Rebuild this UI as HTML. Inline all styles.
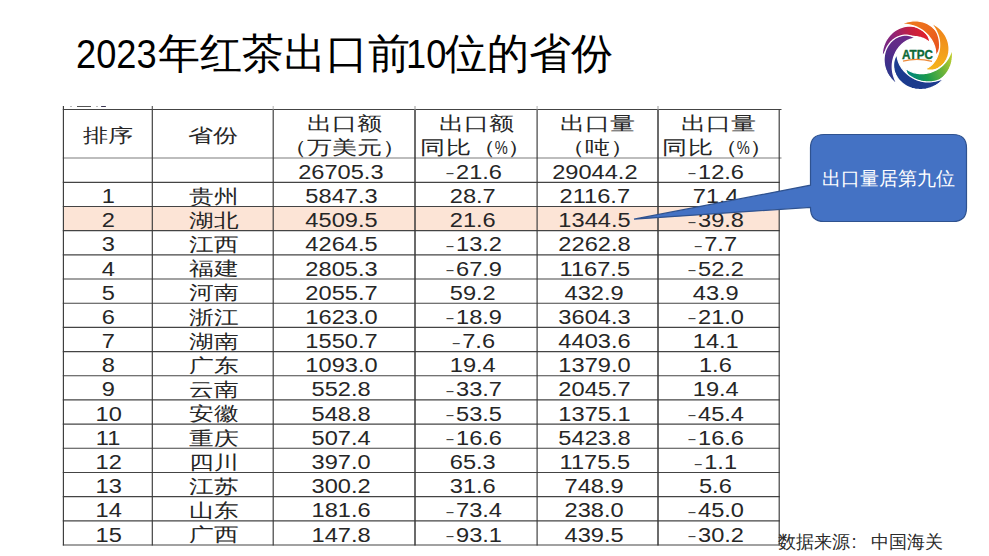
<!DOCTYPE html>
<html><head><meta charset="utf-8"><style>
*{margin:0;padding:0;box-sizing:border-box}
html,body{width:989px;height:556px;overflow:hidden;background:#fff}
body{position:relative;font-family:"Liberation Sans",sans-serif;color:#000}
.title{position:absolute;left:76px;top:30.4px;font-size:42.1px;line-height:48px;white-space:nowrap;color:#000}
.title .d{font-size:40px;display:inline-block;transform:scaleX(0.905);transform-origin:0 50%}
.hl{position:absolute;height:1px;background:#3a3a3a}
.vl{position:absolute;width:1px;background:#3a3a3a}
.c{position:absolute;display:flex;align-items:center;justify-content:center;white-space:nowrap;color:#262626}
.c span{display:inline-block}
.n{font-size:19.3px;line-height:22px}
.n span{transform:scaleX(1.225)}
.m{display:inline-block;transform:scaleX(1.2) scaleY(0.8);position:relative;top:0.5px;margin-left:0.6px;margin-right:2.2px;color:#444}
.z{font-size:18.5px;line-height:22px}
.z span{transform:scaleX(1.30)}
.h{font-size:18.5px;line-height:23.7px;text-align:center}
.pc{display:inline-block;transform:scaleX(0.6);margin:0 -4px;font-style:normal}
.h span{transform:scaleX(1.32)}
.logo{position:absolute;left:882px;top:20px}
.src{position:absolute;left:778px;top:530.5px;font-size:18.4px;line-height:22px;color:#2a2a2a;white-space:nowrap}
.src .co{display:inline-block;width:21px;padding-left:1.6px}
.callout{position:absolute;left:0;top:0}
.ctext{position:absolute;left:810px;top:134px;width:157px;height:88px;display:flex;align-items:center;justify-content:center;color:#fff;font-size:18.5px;white-space:nowrap;letter-spacing:0.05px;padding-top:1.5px}
</style></head><body>

<div class="title"><span class="d" style="margin-right:-6.6px">2023</span>年红茶出口前<span class="d" style="margin-left:-4px;margin-right:-6.2px">10</span>位的省份</div>
<svg class="logo" width="72" height="72" viewBox="0 0 72 72"><defs><linearGradient id="g0" gradientUnits="userSpaceOnUse" x1="0.2" y1="37.3" x2="47.9" y2="22.6"><stop offset="0.00" stop-color="#6a2a88"/><stop offset="0.33" stop-color="#8d2478"/><stop offset="0.67" stop-color="#c01f45"/><stop offset="1.00" stop-color="#e3202b"/></linearGradient><linearGradient id="g1" gradientUnits="userSpaceOnUse" x1="19.4" y1="4.1" x2="53.6" y2="35.5"><stop offset="0.00" stop-color="#ee7a1c"/><stop offset="0.50" stop-color="#ec6a1c"/><stop offset="1.00" stop-color="#e8501e"/></linearGradient><linearGradient id="g2" gradientUnits="userSpaceOnUse" x1="49.2" y1="3.1" x2="42.9" y2="49.1"><stop offset="0.00" stop-color="#ef801a"/><stop offset="0.50" stop-color="#f29a1b"/><stop offset="1.00" stop-color="#f6b51a"/></linearGradient><linearGradient id="g3" gradientUnits="userSpaceOnUse" x1="70.1" y1="29.4" x2="23.8" y2="48.4"><stop offset="0.00" stop-color="#cfd22a"/><stop offset="0.33" stop-color="#6cb43a"/><stop offset="0.67" stop-color="#1a9a4c"/><stop offset="1.00" stop-color="#00857c"/></linearGradient><linearGradient id="g4" gradientUnits="userSpaceOnUse" x1="62.4" y1="58.1" x2="14.9" y2="34.4"><stop offset="0.00" stop-color="#1f3c90"/><stop offset="0.50" stop-color="#1b3a8c"/><stop offset="1.00" stop-color="#1d3d92"/></linearGradient><linearGradient id="g5" gradientUnits="userSpaceOnUse" x1="15.2" y1="64.3" x2="33.3" y2="18.2"><stop offset="0.00" stop-color="#263d8e"/><stop offset="0.33" stop-color="#3f2f8a"/><stop offset="0.67" stop-color="#5e2a88"/><stop offset="1.00" stop-color="#6c2a87"/></linearGradient></defs><path d="M0.25,37.34 L0.20,35.59 L0.25,33.84 L0.39,32.09 L0.64,30.36 L0.97,28.64 L1.40,26.95 L1.93,25.28 L2.55,23.65 L3.26,22.06 L4.06,20.52 L4.95,19.04 L5.91,17.61 L6.96,16.24 L8.08,14.94 L9.27,13.72 L10.53,12.58 L11.84,11.51 L13.22,10.53 L14.64,9.65 L16.10,8.85 L17.60,8.15 L19.13,7.55 L20.68,7.05 L22.25,6.65 L23.83,6.35 L25.41,6.15 L26.99,6.06 L28.56,6.06 L30.11,6.17 L31.63,6.38 L33.12,6.68 L34.57,7.08 L35.98,7.57 L37.33,8.15 L38.63,8.81 L39.86,9.56 L41.02,10.37 L42.10,11.26 L43.11,12.21 L44.03,13.22 L44.86,14.28 L45.59,15.39 L46.23,16.53 L46.77,17.70 L47.21,18.90 L47.55,20.11 L47.78,21.33 L47.90,22.55 L47.90,22.55 L47.16,22.04 L46.46,21.49 L45.75,20.96 L45.02,20.45 L44.27,19.97 L43.50,19.52 L42.71,19.10 L41.90,18.72 L41.07,18.36 L40.23,18.04 L39.37,17.75 L38.49,17.49 L37.61,17.26 L36.70,17.06 L35.79,16.89 L34.85,16.74 L33.91,16.62 L32.95,16.54 L31.97,16.48 L30.97,16.45 L29.96,16.45 L28.93,16.48 L27.88,16.55 L26.81,16.66 L25.73,16.80 L24.62,16.98 L23.50,17.21 L22.35,17.49 L21.19,17.81 L20.02,18.19 L18.83,18.63 L17.63,19.13 L16.43,19.69 L15.22,20.31 L14.01,21.01 L12.80,21.78 L11.60,22.63 L10.41,23.56 L9.24,24.56 L8.10,25.65 L6.98,26.82 L5.90,28.08 L4.86,29.41 L3.86,30.83 L2.91,32.34 L2.01,33.92 L1.15,35.59 L0.25,37.34Z" fill="url(#g0)" stroke="#fff" stroke-width="1.3" stroke-linejoin="round"/><path d="M19.42,4.14 L20.77,3.49 L22.15,2.90 L23.55,2.38 L24.98,1.94 L26.42,1.56 L27.89,1.26 L29.36,1.03 L30.84,0.87 L32.33,0.80 L33.81,0.80 L35.29,0.87 L36.75,1.03 L38.21,1.26 L39.64,1.56 L41.05,1.94 L42.44,2.40 L43.79,2.92 L45.10,3.52 L46.37,4.18 L47.60,4.91 L48.78,5.71 L49.91,6.56 L50.98,7.47 L51.99,8.43 L52.93,9.44 L53.81,10.50 L54.63,11.60 L55.36,12.74 L56.03,13.90 L56.62,15.10 L57.13,16.32 L57.56,17.56 L57.91,18.81 L58.17,20.07 L58.36,21.33 L58.46,22.59 L58.48,23.84 L58.41,25.07 L58.27,26.29 L58.04,27.48 L57.74,28.64 L57.36,29.77 L56.90,30.86 L56.38,31.90 L55.78,32.88 L55.11,33.82 L54.39,34.69 L53.60,35.50 L53.60,35.50 L53.57,34.73 L53.60,33.95 L53.61,33.16 L53.60,32.37 L53.56,31.58 L53.49,30.78 L53.38,29.98 L53.25,29.18 L53.08,28.38 L52.88,27.58 L52.65,26.78 L52.39,25.98 L52.10,25.19 L51.79,24.39 L51.44,23.60 L51.07,22.81 L50.67,22.02 L50.24,21.23 L49.78,20.44 L49.29,19.66 L48.77,18.87 L48.22,18.09 L47.64,17.31 L47.02,16.53 L46.37,15.76 L45.68,14.99 L44.96,14.22 L44.19,13.47 L43.38,12.72 L42.53,11.99 L41.64,11.27 L40.70,10.56 L39.72,9.88 L38.69,9.22 L37.61,8.58 L36.48,7.98 L35.31,7.40 L34.09,6.87 L32.82,6.37 L31.51,5.92 L30.15,5.52 L28.74,5.17 L27.30,4.87 L25.81,4.62 L24.29,4.44 L22.72,4.31 L21.11,4.23 L19.42,4.14Z" fill="url(#g1)" stroke="#fff" stroke-width="1.3" stroke-linejoin="round"/><path d="M49.15,3.10 L50.65,3.78 L52.10,4.53 L53.51,5.36 L54.88,6.26 L56.19,7.23 L57.45,8.27 L58.64,9.38 L59.78,10.55 L60.84,11.78 L61.83,13.06 L62.74,14.40 L63.57,15.78 L64.32,17.20 L64.98,18.65 L65.55,20.14 L66.04,21.64 L66.43,23.17 L66.73,24.71 L66.94,26.26 L67.05,27.80 L67.06,29.34 L66.99,30.87 L66.82,32.38 L66.56,33.87 L66.21,35.32 L65.77,36.74 L65.24,38.11 L64.63,39.44 L63.95,40.71 L63.19,41.91 L62.35,43.06 L61.45,44.13 L60.49,45.13 L59.48,46.05 L58.41,46.89 L57.30,47.64 L56.14,48.30 L54.96,48.86 L53.75,49.33 L52.53,49.70 L51.29,49.97 L50.04,50.14 L48.80,50.21 L47.57,50.18 L46.36,50.05 L45.18,49.82 L44.03,49.48 L42.91,49.06 L42.91,49.06 L43.55,48.72 L44.23,48.43 L44.91,48.12 L45.59,47.79 L46.26,47.42 L46.92,47.02 L47.56,46.58 L48.19,46.11 L48.81,45.61 L49.41,45.07 L50.00,44.51 L50.57,43.91 L51.13,43.29 L51.67,42.63 L52.19,41.95 L52.70,41.23 L53.19,40.49 L53.66,39.72 L54.11,38.91 L54.55,38.08 L54.96,37.21 L55.36,36.31 L55.73,35.38 L56.07,34.42 L56.39,33.42 L56.68,32.38 L56.94,31.31 L57.16,30.21 L57.34,29.07 L57.49,27.90 L57.58,26.69 L57.63,25.45 L57.63,24.17 L57.57,22.87 L57.45,21.54 L57.27,20.18 L57.02,18.81 L56.71,17.41 L56.31,16.00 L55.84,14.58 L55.29,13.14 L54.66,11.71 L53.95,10.28 L53.15,8.85 L52.27,7.42 L51.30,6.01 L50.25,4.59 L49.15,3.10Z" fill="url(#g2)" stroke="#fff" stroke-width="1.3" stroke-linejoin="round"/><path d="M70.07,29.39 L70.33,31.19 L70.50,32.99 L70.56,34.81 L70.52,36.62 L70.38,38.43 L70.13,40.23 L69.78,42.00 L69.32,43.75 L68.77,45.46 L68.11,47.14 L67.36,48.76 L66.51,50.34 L65.57,51.85 L64.55,53.30 L63.44,54.68 L62.26,55.98 L61.00,57.21 L59.68,58.34 L58.30,59.38 L56.86,60.33 L55.38,61.19 L53.85,61.94 L52.30,62.58 L50.71,63.13 L49.11,63.56 L47.50,63.88 L45.88,64.10 L44.27,64.21 L42.67,64.21 L41.09,64.10 L39.54,63.89 L38.02,63.57 L36.55,63.16 L35.12,62.65 L33.76,62.04 L32.45,61.35 L31.22,60.57 L30.07,59.72 L28.99,58.79 L28.01,57.80 L27.12,56.76 L26.32,55.66 L25.62,54.51 L25.03,53.33 L24.55,52.13 L24.17,50.90 L23.91,49.67 L23.76,48.43 L23.76,48.43 L24.53,48.90 L25.26,49.42 L25.99,49.92 L26.75,50.39 L27.52,50.83 L28.31,51.24 L29.12,51.61 L29.95,51.95 L30.79,52.26 L31.65,52.53 L32.52,52.77 L33.41,52.98 L34.31,53.16 L35.22,53.31 L36.14,53.43 L37.08,53.51 L38.03,53.57 L39.00,53.60 L39.98,53.59 L40.98,53.56 L41.99,53.49 L43.02,53.39 L44.07,53.25 L45.14,53.07 L46.22,52.85 L47.32,52.58 L48.44,52.27 L49.57,51.90 L50.72,51.48 L51.88,51.00 L53.05,50.46 L54.22,49.86 L55.40,49.18 L56.58,48.44 L57.75,47.61 L58.91,46.71 L60.05,45.73 L61.18,44.67 L62.27,43.52 L63.33,42.29 L64.36,40.98 L65.33,39.57 L66.25,38.09 L67.12,36.52 L67.92,34.86 L68.66,33.13 L69.35,31.31 L70.07,29.39Z" fill="url(#g3)" stroke="#fff" stroke-width="1.3" stroke-linejoin="round"/><path d="M62.36,58.13 L61.15,59.50 L59.86,60.80 L58.51,62.02 L57.08,63.17 L55.60,64.23 L54.05,65.21 L52.46,66.09 L50.82,66.88 L49.14,67.57 L47.42,68.16 L45.68,68.65 L43.92,69.03 L42.14,69.31 L40.35,69.48 L38.57,69.54 L36.79,69.50 L35.02,69.35 L33.27,69.09 L31.55,68.73 L29.87,68.27 L28.22,67.71 L26.62,67.06 L25.08,66.31 L23.59,65.47 L22.17,64.55 L20.82,63.55 L19.55,62.47 L18.36,61.33 L17.25,60.12 L16.23,58.85 L15.31,57.54 L14.48,56.18 L13.75,54.78 L13.12,53.35 L12.60,51.90 L12.17,50.44 L11.86,48.97 L11.65,47.49 L11.54,46.03 L11.53,44.58 L11.63,43.16 L11.83,41.76 L12.12,40.40 L12.51,39.09 L12.99,37.83 L13.56,36.63 L14.21,35.49 L14.93,34.43 L14.93,34.43 L15.11,35.49 L15.24,36.54 L15.39,37.58 L15.59,38.61 L15.82,39.62 L16.11,40.62 L16.43,41.61 L16.79,42.58 L17.20,43.53 L17.64,44.47 L18.12,45.38 L18.64,46.28 L19.19,47.16 L19.77,48.02 L20.39,48.87 L21.04,49.69 L21.72,50.50 L22.44,51.30 L23.18,52.07 L23.96,52.83 L24.78,53.58 L25.63,54.31 L26.52,55.01 L27.44,55.70 L28.41,56.37 L29.41,57.02 L30.47,57.64 L31.56,58.24 L32.70,58.80 L33.89,59.33 L35.13,59.83 L36.41,60.28 L37.74,60.69 L39.12,61.04 L40.55,61.34 L42.02,61.58 L43.54,61.75 L45.10,61.86 L46.70,61.88 L48.34,61.83 L50.00,61.69 L51.70,61.46 L53.42,61.14 L55.16,60.72 L56.92,60.20 L58.70,59.59 L60.49,58.88 L62.36,58.13Z" fill="url(#g4)" stroke="#fff" stroke-width="1.3" stroke-linejoin="round"/><path d="M15.21,64.33 L13.79,63.28 L12.43,62.16 L11.14,60.96 L9.91,59.69 L8.76,58.36 L7.69,56.96 L6.70,55.51 L5.79,54.00 L4.98,52.45 L4.26,50.86 L3.64,49.23 L3.12,47.57 L2.69,45.89 L2.37,44.20 L2.15,42.49 L2.04,40.78 L2.03,39.08 L2.12,37.39 L2.31,35.72 L2.61,34.07 L3.00,32.45 L3.49,30.87 L4.08,29.34 L4.75,27.86 L5.52,26.43 L6.36,25.07 L7.28,23.78 L8.28,22.56 L9.34,21.43 L10.47,20.37 L11.65,19.41 L12.88,18.53 L14.16,17.75 L15.47,17.07 L16.80,16.49 L18.16,16.02 L19.53,15.64 L20.91,15.37 L22.29,15.21 L23.65,15.15 L25.00,15.20 L26.32,15.34 L27.61,15.59 L28.85,15.94 L30.05,16.38 L31.19,16.91 L32.27,17.53 L33.28,18.23 L33.28,18.23 L32.43,18.42 L31.56,18.55 L30.70,18.70 L29.84,18.89 L28.99,19.11 L28.14,19.38 L27.30,19.68 L26.46,20.02 L25.64,20.41 L24.84,20.83 L24.04,21.28 L23.25,21.77 L22.48,22.30 L21.73,22.86 L20.98,23.45 L20.25,24.08 L19.53,24.75 L18.83,25.44 L18.14,26.18 L17.47,26.95 L16.81,27.75 L16.17,28.59 L15.54,29.48 L14.94,30.40 L14.36,31.36 L13.80,32.37 L13.27,33.42 L12.78,34.51 L12.31,35.65 L11.88,36.84 L11.49,38.07 L11.15,39.34 L10.86,40.66 L10.62,42.03 L10.43,43.43 L10.32,44.88 L10.27,46.36 L10.29,47.88 L10.39,49.44 L10.57,51.02 L10.83,52.62 L11.18,54.25 L11.63,55.89 L12.17,57.55 L12.80,59.21 L13.53,60.88 L14.34,62.57 L15.21,64.33Z" fill="url(#g5)" stroke="#fff" stroke-width="1.3" stroke-linejoin="round"/><text x="35.5" y="38.6" text-anchor="middle" font-family="Liberation Sans" font-weight="bold" font-size="12.6" fill="#0d6a37" stroke="#0d6a37" stroke-width="0.35" transform="translate(35.5 0) scale(0.93 1) translate(-35.5 0)">ATPC</text><path d="M21,41.2 Q35,37.6 50,41.4" stroke="#ee8a3a" stroke-width="1.2" fill="none"/></svg>
<div style="position:absolute;left:63px;top:207px;width:716px;height:24px;background:#fce4d6"></div>
<svg style="position:absolute;left:0;top:0" width="989" height="556" viewBox="0 0 989 556"><line x1="62.8" y1="109.50" x2="781.5" y2="109.50" stroke="#444" stroke-width="1.15"/><line x1="62.8" y1="158.00" x2="781.5" y2="158.00" stroke="#7c7c7c" stroke-width="1.15"/><line x1="62.8" y1="182.30" x2="779.8000000000001" y2="182.30" stroke="#444" stroke-width="1.15"/><line x1="62.8" y1="206.48" x2="779.8000000000001" y2="206.48" stroke="#444" stroke-width="1.15"/><line x1="62.8" y1="230.66" x2="779.8000000000001" y2="230.66" stroke="#444" stroke-width="1.15"/><line x1="62.8" y1="254.84" x2="779.8000000000001" y2="254.84" stroke="#444" stroke-width="1.15"/><line x1="62.8" y1="279.02" x2="779.8000000000001" y2="279.02" stroke="#444" stroke-width="1.15"/><line x1="62.8" y1="303.20" x2="779.8000000000001" y2="303.20" stroke="#444" stroke-width="1.15"/><line x1="62.8" y1="327.38" x2="779.8000000000001" y2="327.38" stroke="#444" stroke-width="1.15"/><line x1="62.8" y1="351.56" x2="779.8000000000001" y2="351.56" stroke="#444" stroke-width="1.15"/><line x1="62.8" y1="375.74" x2="779.8000000000001" y2="375.74" stroke="#444" stroke-width="1.15"/><line x1="62.8" y1="399.92" x2="779.8000000000001" y2="399.92" stroke="#444" stroke-width="1.15"/><line x1="62.8" y1="424.10" x2="779.8000000000001" y2="424.10" stroke="#444" stroke-width="1.15"/><line x1="62.8" y1="448.28" x2="779.8000000000001" y2="448.28" stroke="#444" stroke-width="1.15"/><line x1="62.8" y1="472.46" x2="779.8000000000001" y2="472.46" stroke="#444" stroke-width="1.15"/><line x1="62.8" y1="496.64" x2="779.8000000000001" y2="496.64" stroke="#444" stroke-width="1.15"/><line x1="62.8" y1="520.82" x2="779.8000000000001" y2="520.82" stroke="#444" stroke-width="1.15"/><line x1="62.8" y1="545.00" x2="779.8000000000001" y2="545.00" stroke="#444" stroke-width="1.15"/><line x1="63.4" y1="109.5" x2="63.4" y2="545.6" stroke="#3a3a3a" stroke-width="1.15"/><line x1="63.4" y1="106" x2="63.4" y2="109.5" stroke="#3a3a3a" stroke-width="1.15"/><line x1="152.3" y1="109.5" x2="152.3" y2="545.6" stroke="#3a3a3a" stroke-width="1.15"/><line x1="152.3" y1="106" x2="152.3" y2="109.5" stroke="#555" stroke-width="1.15"/><line x1="273.2" y1="109.5" x2="273.2" y2="545.6" stroke="#3a3a3a" stroke-width="1.15"/><line x1="273.2" y1="106" x2="273.2" y2="109.5" stroke="#bbb" stroke-width="1.15"/><line x1="415.0" y1="109.5" x2="415.0" y2="545.6" stroke="#3a3a3a" stroke-width="1.5"/><line x1="415.0" y1="106" x2="415.0" y2="109.5" stroke="#bbb" stroke-width="1.5"/><line x1="537.1" y1="109.5" x2="537.1" y2="545.6" stroke="#3a3a3a" stroke-width="1.15"/><line x1="537.1" y1="106" x2="537.1" y2="109.5" stroke="#bbb" stroke-width="1.15"/><line x1="658.0" y1="109.5" x2="658.0" y2="545.6" stroke="#3a3a3a" stroke-width="1.5"/><line x1="658.0" y1="106" x2="658.0" y2="109.5" stroke="#bbb" stroke-width="1.5"/><line x1="779.2" y1="109.5" x2="779.2" y2="545.6" stroke="#3a3a3a" stroke-width="1.15"/></svg>
<div class="c h" style="left:63px;top:111.5px;width:89px;height:49.0px;"><span>排序</span></div>
<div class="c h" style="left:152px;top:111.5px;width:121px;height:49.0px;"><span>省份</span></div>
<div class="c h" style="left:273px;top:111.5px;width:142px;height:49.0px;"><span>出口额<br>（万美元）</span></div>
<div class="c h" style="left:415px;top:111.5px;width:122px;height:49.0px;"><span>出口额<br>同比（<i class="pc">%</i>）</span></div>
<div class="c h" style="left:537px;top:111.5px;width:121px;height:49.0px;"><span>出口量<br>（吨）</span></div>
<div class="c h" style="left:658px;top:111.5px;width:121px;height:49.0px;"><span>出口量<br>同比（<i class="pc">%</i>）</span></div>
<div class="c n" style="left:270px;top:160.7px;width:142px;height:24.3px;"><span>26705.3</span></div>
<div class="c n" style="left:412px;top:160.7px;width:122px;height:24.3px;"><span><i class="m" style="font-style:normal">-</i>21.6</span></div>
<div class="c n" style="left:534px;top:160.7px;width:121px;height:24.3px;"><span>29044.2</span></div>
<div class="c n" style="left:655px;top:160.7px;width:121px;height:24.3px;"><span><i class="m" style="font-style:normal">-</i>12.6</span></div>
<div class="c n" style="left:64px;top:185.0px;width:89px;height:24.2px;"><span>1</span></div>
<div class="c z" style="left:153px;top:184.7px;width:121px;height:24.2px;"><span>贵州</span></div>
<div class="c n" style="left:270px;top:185.0px;width:142px;height:24.2px;"><span>5847.3</span></div>
<div class="c n" style="left:412px;top:185.0px;width:122px;height:24.2px;"><span>28.7</span></div>
<div class="c n" style="left:534px;top:185.0px;width:121px;height:24.2px;"><span>2116.7</span></div>
<div class="c n" style="left:655px;top:185.0px;width:121px;height:24.2px;"><span>71.4</span></div>
<div class="c n" style="left:64px;top:209.2px;width:89px;height:24.2px;"><span>2</span></div>
<div class="c z" style="left:153px;top:208.9px;width:121px;height:24.2px;"><span>湖北</span></div>
<div class="c n" style="left:270px;top:209.2px;width:142px;height:24.2px;"><span>4509.5</span></div>
<div class="c n" style="left:412px;top:209.2px;width:122px;height:24.2px;"><span>21.6</span></div>
<div class="c n" style="left:534px;top:209.2px;width:121px;height:24.2px;"><span>1344.5</span></div>
<div class="c n" style="left:655px;top:209.2px;width:121px;height:24.2px;"><span><i class="m" style="font-style:normal">-</i>39.8</span></div>
<div class="c n" style="left:64px;top:233.4px;width:89px;height:24.2px;"><span>3</span></div>
<div class="c z" style="left:153px;top:233.1px;width:121px;height:24.2px;"><span>江西</span></div>
<div class="c n" style="left:270px;top:233.4px;width:142px;height:24.2px;"><span>4264.5</span></div>
<div class="c n" style="left:412px;top:233.4px;width:122px;height:24.2px;"><span><i class="m" style="font-style:normal">-</i>13.2</span></div>
<div class="c n" style="left:534px;top:233.4px;width:121px;height:24.2px;"><span>2262.8</span></div>
<div class="c n" style="left:655px;top:233.4px;width:121px;height:24.2px;"><span><i class="m" style="font-style:normal">-</i>7.7</span></div>
<div class="c n" style="left:64px;top:257.5px;width:89px;height:24.2px;"><span>4</span></div>
<div class="c z" style="left:153px;top:257.2px;width:121px;height:24.2px;"><span>福建</span></div>
<div class="c n" style="left:270px;top:257.5px;width:142px;height:24.2px;"><span>2805.3</span></div>
<div class="c n" style="left:412px;top:257.5px;width:122px;height:24.2px;"><span><i class="m" style="font-style:normal">-</i>67.9</span></div>
<div class="c n" style="left:534px;top:257.5px;width:121px;height:24.2px;"><span>1167.5</span></div>
<div class="c n" style="left:655px;top:257.5px;width:121px;height:24.2px;"><span><i class="m" style="font-style:normal">-</i>52.2</span></div>
<div class="c n" style="left:64px;top:281.7px;width:89px;height:24.2px;"><span>5</span></div>
<div class="c z" style="left:153px;top:281.4px;width:121px;height:24.2px;"><span>河南</span></div>
<div class="c n" style="left:270px;top:281.7px;width:142px;height:24.2px;"><span>2055.7</span></div>
<div class="c n" style="left:412px;top:281.7px;width:122px;height:24.2px;"><span>59.2</span></div>
<div class="c n" style="left:534px;top:281.7px;width:121px;height:24.2px;"><span>432.9</span></div>
<div class="c n" style="left:655px;top:281.7px;width:121px;height:24.2px;"><span>43.9</span></div>
<div class="c n" style="left:64px;top:305.9px;width:89px;height:24.2px;"><span>6</span></div>
<div class="c z" style="left:153px;top:305.6px;width:121px;height:24.2px;"><span>浙江</span></div>
<div class="c n" style="left:270px;top:305.9px;width:142px;height:24.2px;"><span>1623.0</span></div>
<div class="c n" style="left:412px;top:305.9px;width:122px;height:24.2px;"><span><i class="m" style="font-style:normal">-</i>18.9</span></div>
<div class="c n" style="left:534px;top:305.9px;width:121px;height:24.2px;"><span>3604.3</span></div>
<div class="c n" style="left:655px;top:305.9px;width:121px;height:24.2px;"><span><i class="m" style="font-style:normal">-</i>21.0</span></div>
<div class="c n" style="left:64px;top:330.1px;width:89px;height:24.2px;"><span>7</span></div>
<div class="c z" style="left:153px;top:329.8px;width:121px;height:24.2px;"><span>湖南</span></div>
<div class="c n" style="left:270px;top:330.1px;width:142px;height:24.2px;"><span>1550.7</span></div>
<div class="c n" style="left:412px;top:330.1px;width:122px;height:24.2px;"><span><i class="m" style="font-style:normal">-</i>7.6</span></div>
<div class="c n" style="left:534px;top:330.1px;width:121px;height:24.2px;"><span>4403.6</span></div>
<div class="c n" style="left:655px;top:330.1px;width:121px;height:24.2px;"><span>14.1</span></div>
<div class="c n" style="left:64px;top:354.3px;width:89px;height:24.2px;"><span>8</span></div>
<div class="c z" style="left:153px;top:354.0px;width:121px;height:24.2px;"><span>广东</span></div>
<div class="c n" style="left:270px;top:354.3px;width:142px;height:24.2px;"><span>1093.0</span></div>
<div class="c n" style="left:412px;top:354.3px;width:122px;height:24.2px;"><span>19.4</span></div>
<div class="c n" style="left:534px;top:354.3px;width:121px;height:24.2px;"><span>1379.0</span></div>
<div class="c n" style="left:655px;top:354.3px;width:121px;height:24.2px;"><span>1.6</span></div>
<div class="c n" style="left:64px;top:378.4px;width:89px;height:24.2px;"><span>9</span></div>
<div class="c z" style="left:153px;top:378.1px;width:121px;height:24.2px;"><span>云南</span></div>
<div class="c n" style="left:270px;top:378.4px;width:142px;height:24.2px;"><span>552.8</span></div>
<div class="c n" style="left:412px;top:378.4px;width:122px;height:24.2px;"><span><i class="m" style="font-style:normal">-</i>33.7</span></div>
<div class="c n" style="left:534px;top:378.4px;width:121px;height:24.2px;"><span>2045.7</span></div>
<div class="c n" style="left:655px;top:378.4px;width:121px;height:24.2px;"><span>19.4</span></div>
<div class="c n" style="left:64px;top:402.6px;width:89px;height:24.2px;"><span>10</span></div>
<div class="c z" style="left:153px;top:402.3px;width:121px;height:24.2px;"><span>安徽</span></div>
<div class="c n" style="left:270px;top:402.6px;width:142px;height:24.2px;"><span>548.8</span></div>
<div class="c n" style="left:412px;top:402.6px;width:122px;height:24.2px;"><span><i class="m" style="font-style:normal">-</i>53.5</span></div>
<div class="c n" style="left:534px;top:402.6px;width:121px;height:24.2px;"><span>1375.1</span></div>
<div class="c n" style="left:655px;top:402.6px;width:121px;height:24.2px;"><span><i class="m" style="font-style:normal">-</i>45.4</span></div>
<div class="c n" style="left:64px;top:426.8px;width:89px;height:24.2px;"><span>11</span></div>
<div class="c z" style="left:153px;top:426.5px;width:121px;height:24.2px;"><span>重庆</span></div>
<div class="c n" style="left:270px;top:426.8px;width:142px;height:24.2px;"><span>507.4</span></div>
<div class="c n" style="left:412px;top:426.8px;width:122px;height:24.2px;"><span><i class="m" style="font-style:normal">-</i>16.6</span></div>
<div class="c n" style="left:534px;top:426.8px;width:121px;height:24.2px;"><span>5423.8</span></div>
<div class="c n" style="left:655px;top:426.8px;width:121px;height:24.2px;"><span><i class="m" style="font-style:normal">-</i>16.6</span></div>
<div class="c n" style="left:64px;top:451.0px;width:89px;height:24.2px;"><span>12</span></div>
<div class="c z" style="left:153px;top:450.7px;width:121px;height:24.2px;"><span>四川</span></div>
<div class="c n" style="left:270px;top:451.0px;width:142px;height:24.2px;"><span>397.0</span></div>
<div class="c n" style="left:412px;top:451.0px;width:122px;height:24.2px;"><span>65.3</span></div>
<div class="c n" style="left:534px;top:451.0px;width:121px;height:24.2px;"><span>1175.5</span></div>
<div class="c n" style="left:655px;top:451.0px;width:121px;height:24.2px;"><span><i class="m" style="font-style:normal">-</i>1.1</span></div>
<div class="c n" style="left:64px;top:475.2px;width:89px;height:24.2px;"><span>13</span></div>
<div class="c z" style="left:153px;top:474.9px;width:121px;height:24.2px;"><span>江苏</span></div>
<div class="c n" style="left:270px;top:475.2px;width:142px;height:24.2px;"><span>300.2</span></div>
<div class="c n" style="left:412px;top:475.2px;width:122px;height:24.2px;"><span>31.6</span></div>
<div class="c n" style="left:534px;top:475.2px;width:121px;height:24.2px;"><span>748.9</span></div>
<div class="c n" style="left:655px;top:475.2px;width:121px;height:24.2px;"><span>5.6</span></div>
<div class="c n" style="left:64px;top:499.3px;width:89px;height:24.2px;"><span>14</span></div>
<div class="c z" style="left:153px;top:499.0px;width:121px;height:24.2px;"><span>山东</span></div>
<div class="c n" style="left:270px;top:499.3px;width:142px;height:24.2px;"><span>181.6</span></div>
<div class="c n" style="left:412px;top:499.3px;width:122px;height:24.2px;"><span><i class="m" style="font-style:normal">-</i>73.4</span></div>
<div class="c n" style="left:534px;top:499.3px;width:121px;height:24.2px;"><span>238.0</span></div>
<div class="c n" style="left:655px;top:499.3px;width:121px;height:24.2px;"><span><i class="m" style="font-style:normal">-</i>45.0</span></div>
<div class="c n" style="left:64px;top:523.5px;width:89px;height:24.2px;"><span>15</span></div>
<div class="c z" style="left:153px;top:523.2px;width:121px;height:24.2px;"><span>广西</span></div>
<div class="c n" style="left:270px;top:523.5px;width:142px;height:24.2px;"><span>147.8</span></div>
<div class="c n" style="left:412px;top:523.5px;width:122px;height:24.2px;"><span><i class="m" style="font-style:normal">-</i>93.1</span></div>
<div class="c n" style="left:534px;top:523.5px;width:121px;height:24.2px;"><span>439.5</span></div>
<div class="c n" style="left:655px;top:523.5px;width:121px;height:24.2px;"><span><i class="m" style="font-style:normal">-</i>30.2</span></div>
<svg class="callout" width="989" height="556" viewBox="0 0 989 556">
<path d="M824,134.5 H953 Q966.5,134.5 966.5,148 V208 Q966.5,221.5 953,221.5 H824 Q810.5,221.5 810.5,208 V207.3 L634,219.2 L810.5,185.2 V148 Q810.5,134.5 824,134.5 Z" fill="#4472c4" stroke="#2f528f" stroke-width="1.2"/>
</svg>
<div class="ctext">出口量居第九位</div>
<div style="position:absolute;left:77px;top:106px;width:14px;height:1px;background:#555"></div><div style="position:absolute;left:101px;top:105.5px;width:4.5px;height:1.6px;border-radius:1px;background:#3a3550"></div><div style="position:absolute;left:70px;top:106px;width:1.5px;height:1px;background:#bbb"></div><div style="position:absolute;left:96px;top:106px;width:1.5px;height:1px;background:#bbb"></div>
<div class="src">数据来源<span class="co">:</span>中国海关</div>
</body></html>
